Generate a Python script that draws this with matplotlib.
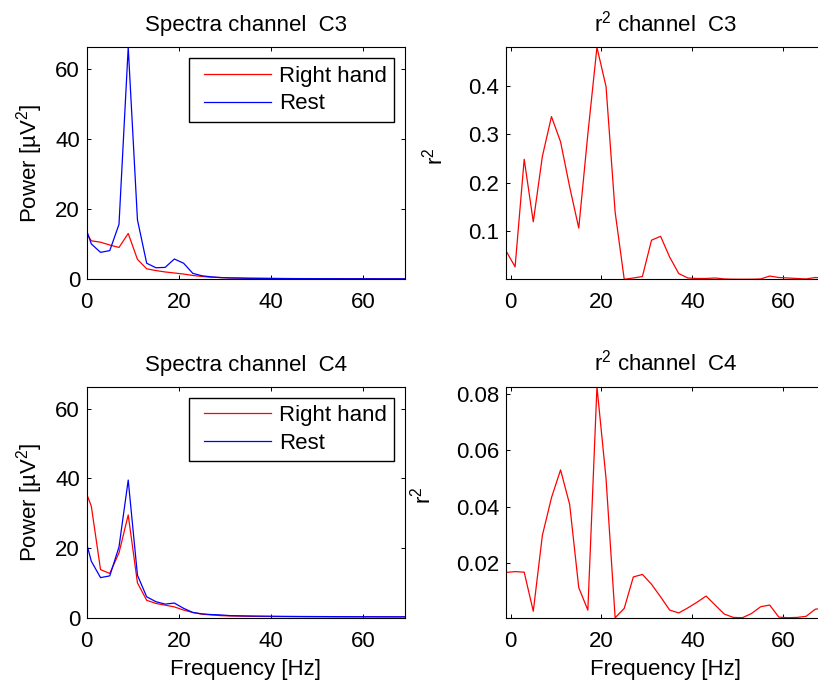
import numpy as np
import matplotlib
matplotlib.use("Agg")
import matplotlib.pyplot as plt
from matplotlib.legend_handler import HandlerLine2D

plt.rcParams["font.family"] = ["Liberation Sans", "DejaVu Sans"]
plt.rcParams["mathtext.fontset"] = "custom"
plt.rcParams["mathtext.rm"] = "Liberation Sans"
plt.rcParams["mathtext.it"] = "Liberation Sans"
plt.rcParams["mathtext.bf"] = "Liberation Sans:bold"
plt.rcParams["mathtext.default"] = "regular"

# Frequency bins (Hz)
freq = np.arange(-1, 70, 2)

# Power spectra, channel C3
c3_right_hand = [15.2, 11.0, 10.6, 9.8, 9.1, 13.1, 5.7, 3.0, 2.5, 2.1, 1.8, 1.5,
                 1.1, 0.8, 0.6, 0.5, 0.4, 0.35, 0.3, 0.27, 0.25, 0.22, 0.2, 0.19,
                 0.18, 0.17, 0.16, 0.15, 0.15, 0.14, 0.14, 0.13, 0.13, 0.12, 0.12, 0.12]
c3_rest = [17.7, 10.1, 7.7, 8.2, 15.7, 66.3, 17.0, 4.6, 3.3, 3.4, 5.8, 4.6,
           1.7, 1.0, 0.7, 0.5, 0.4, 0.35, 0.3, 0.28, 0.26, 0.24, 0.22, 0.21,
           0.2, 0.19, 0.18, 0.17, 0.17, 0.16, 0.16, 0.15, 0.15, 0.14, 0.14, 0.14]

# Power spectra, channel C4
c4_right_hand = [39.0, 32.0, 13.8, 12.7, 18.6, 29.5, 10.0, 5.0, 4.1, 3.6, 3.1, 2.2,
                 1.5, 1.0, 0.8, 0.6, 0.5, 0.45, 0.4, 0.37, 0.35, 0.33, 0.31, 0.3,
                 0.29, 0.28, 0.27, 0.26, 0.25, 0.25, 0.24, 0.24, 0.23, 0.23, 0.22, 0.22]
c4_rest = [26.2, 16.2, 11.5, 12.0, 20.3, 39.5, 12.2, 6.0, 4.6, 3.9, 4.2, 2.7,
           1.5, 1.1, 0.9, 0.8, 0.6, 0.55, 0.5, 0.46, 0.43, 0.4, 0.38, 0.36,
           0.34, 0.33, 0.32, 0.31, 0.3, 0.29, 0.28, 0.28, 0.27, 0.27, 0.26, 0.26]

# r^2 between conditions
r2_c3 = [0.059, 0.026, 0.248, 0.119, 0.254, 0.336, 0.284, 0.191, 0.106, 0.30,
         0.479, 0.398, 0.139, 0.0003, 0.003, 0.006, 0.081, 0.089, 0.046, 0.012,
         0.003, 0.002, 0.002, 0.003, 0.001, 0.0005, 0.0004, 0.0005, 0.001, 0.007,
         0.004, 0.003, 0.002, 0.001, 0.004, 0.003]
r2_c4 = [0.0166, 0.0169, 0.0167, 0.0028, 0.0298, 0.0432, 0.0531, 0.0408, 0.0112, 0.0032,
         0.0827, 0.050, 0.0005, 0.0038, 0.015, 0.0159, 0.0124, 0.0079, 0.0032, 0.0022,
         0.004, 0.006, 0.0082, 0.005, 0.0018, 0.0006, 0.0005, 0.002, 0.0044, 0.005,
         0.0007, 0.0005, 0.0006, 0.001, 0.0035, 0.004]

freq_ticks = [0, 20, 40, 60]
power_ticks = [0, 20, 40, 60]
r2_c3_ticks = [0.1, 0.2, 0.3, 0.4]
r2_c3_labels = ["0.1", "0.2", "0.3", "0.4"]
r2_c4_ticks = [0.02, 0.04, 0.06, 0.08]
r2_c4_labels = ["0.02", "0.04", "0.06", "0.08"]
legend_labels = ["Right hand", "Rest"]

FS = 16
W, H = 818, 680
fig = plt.figure(figsize=(W / 100, H / 100), dpi=100)


def px_axes(left, top, width, height):
    return fig.add_axes([left / W, 1 - (top + height) / H, width / W, height / H])


ax_w = 318.3
ax_tl = px_axes(86.7, 47.3, ax_w, 232.0)
ax_tr = px_axes(506.0, 47.3, ax_w, 232.0)
ax_bl = px_axes(86.7, 386.7, ax_w, 231.0)
ax_br = px_axes(506.0, 386.7, ax_w, 231.0)


def style(ax):
    ax.tick_params(direction="in", top=True, right=True, length=3.2, width=0.7,
                   labelsize=FS, colors="black")
    ax.tick_params(axis="x", pad=9.4)
    ax.tick_params(axis="y", pad=4.8)
    for s in ax.spines.values():
        s.set_linewidth(0.8)


power_top = max(max(c3_rest), max(c3_right_hand))

for ax, rh, rest, ch in [(ax_tl, c3_right_hand, c3_rest, "C3"),
                         (ax_bl, c4_right_hand, c4_rest, "C4")]:
    l1, = ax.plot(freq, rh, color="red", lw=0.9)
    l2, = ax.plot(freq, rest, color="blue", lw=0.9)
    ax.set_xlim(0, 69)
    ax.set_ylim(0, power_top)
    ax.set_xticks(freq_ticks)
    ax.set_yticks(power_ticks)
    style(ax)
    ax.set_title(f"Spectra channel  {ch}", fontsize=FS, pad=11.5)
    ax.set_ylabel("Power [µV$^2$]", fontsize=FS)
    ax.yaxis.set_label_coords(-0.130, 0.5)
    leg = ax.legend([l1, l2], legend_labels, loc="upper right", fontsize=FS,
                    frameon=True, fancybox=False, framealpha=1, edgecolor="black",
                    borderpad=0.33, handlelength=3.67, handletextpad=0.02,
                    labelspacing=0.3, borderaxespad=0.5,
                    handler_map={l1: HandlerLine2D(numpoints=2, marker_pad=0.31),
                                 l2: HandlerLine2D(numpoints=2, marker_pad=0.31)})
    leg.get_frame().set_linewidth(1.0)

for ax, r2, ch, ticks, labels, lx in [(ax_tr, r2_c3, "C3", r2_c3_ticks, r2_c3_labels, -0.183),
                                      (ax_br, r2_c4, "C4", r2_c4_ticks, r2_c4_labels, -0.220)]:
    ax.plot(freq, r2, color="red", lw=0.9)
    ax.set_xlim(freq[0], freq[-1])
    ax.set_ylim(min(r2), max(r2))
    ax.set_xticks(freq_ticks)
    ax.set_yticks(ticks)
    ax.set_yticklabels(labels)
    style(ax)
    ax.set_title(f"r$^2$ channel  {ch}", fontsize=FS, pad=11.5)
    ax.set_ylabel("r$^2$", fontsize=FS)
    ax.yaxis.set_label_coords(lx, 0.53)

for ax in (ax_bl, ax_br):
    ax.set_xlabel("Frequency [Hz]", fontsize=FS, labelpad=5)

fig.savefig("out.png", dpi=100)
